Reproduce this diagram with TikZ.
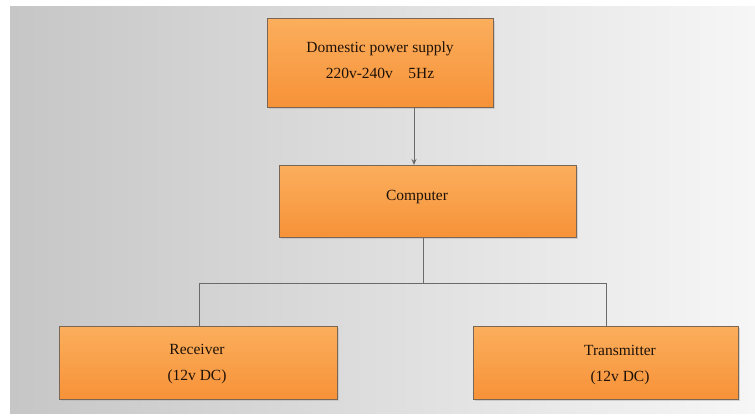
\documentclass[tikz,border=0pt]{standalone}
\usepackage{fontspec}
\setmainfont{Liberation Serif}
\usetikzlibrary{arrows.meta}
\definecolor{bgL}{HTML}{C6C6C6}
\definecolor{bgR}{HTML}{F6F6F6}
\definecolor{boxT}{HTML}{FBAE5C}
\definecolor{boxB}{HTML}{F79238}
\definecolor{boxD}{HTML}{7A6654}
\definecolor{lineC}{HTML}{6A6A6A}
\definecolor{txt}{HTML}{1E1208}
\tikzset{
  box/.style={draw=boxD, line width=0.9pt, top color=boxT, bottom color=boxB,
    inner sep=0pt, anchor=north west},
  lbl/.style={text=txt, font=\fontsize{15.5}{26}\selectfont, align=center},
  conn/.style={draw=lineC, line width=1pt}
}
\begin{document}
\begin{tikzpicture}[x=1pt,y=-1pt]
\useasboundingbox (0,0) rectangle (755,415);
\fill[white] (0,0) rectangle (755,415);
\shade[left color=bgL, right color=bgR] (10,6) rectangle (755,413);
% shadows
\fill[black!30,opacity=0.5] (269,21) rectangle (495,109);
\fill[black!30,opacity=0.5] (281,167) rectangle (578,239);
\fill[black!30,opacity=0.5] (61,328) rectangle (339,401);
\fill[black!30,opacity=0.5] (475,328) rectangle (740,401);
\node[box, minimum width=226pt, minimum height=89pt] (dps) at (267,18) {};
\node[lbl] (dpst) at (380,60) {Domestic power supply\\220v-240v\quad 5Hz};
\node[box, minimum width=297pt, minimum height=72pt] (comp) at (279,165) {};
\node[lbl] (compt) at (417,197) {Computer};
\node[box, minimum width=278pt, minimum height=73pt] (rec) at (59,326) {};
\node[lbl] (rect) at (197,364) {Receiver\\(12v DC)};
\node[box, minimum width=265pt, minimum height=73pt] (tra) at (473,326) {};
\node[lbl] (trat) at (620,365) {Transmitter\\(12v DC)};
\coordinate (j) at (423,283);
\draw[conn, -{Stealth[length=6pt,width=5pt]}] (dps.south -| 414,0) -- (comp.north -| 414,0);
\draw[conn] (comp.south -| j) -- (j);
\draw[conn] (j) -| (rec.north -| 199,0);
\draw[conn] (j) -| (tra.north -| 606,0);
\end{tikzpicture}
\end{document}
